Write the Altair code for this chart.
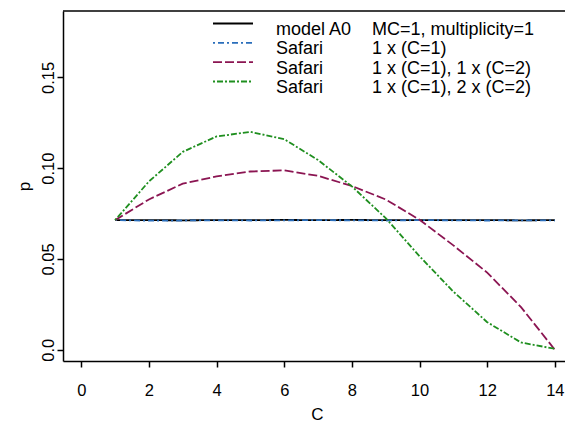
import altair as alt
import pandas as pd

# ---- data ----
C = list(range(1, 15))
model_a0 = [0.0714, 0.0714, 0.0713, 0.0714, 0.0714, 0.0715, 0.0714,
            0.0715, 0.0714, 0.0714, 0.0714, 0.0714, 0.0713, 0.0714]
safari_1 = [0.0714, 0.0711, 0.0712, 0.0713, 0.0712, 0.0713, 0.0714,
            0.0713, 0.0712, 0.0714, 0.0713, 0.0712, 0.0713, 0.0712]
safari_2 = [0.0714, 0.0828, 0.0915, 0.0955, 0.0982, 0.0988, 0.0958,
            0.0902, 0.0828, 0.0716, 0.0575, 0.0425, 0.0235, 0.0000]
safari_3 = [0.0714, 0.0927, 0.1090, 0.1175, 0.1200, 0.1160, 0.1045,
            0.0900, 0.0725, 0.0515, 0.0320, 0.0152, 0.0040, 0.0005]

keys = ["A0", "S1", "S2", "S3"]
names = ["model A0", "Safari", "Safari", "Safari"]
descs = ["MC=1, multiplicity=1", "1 x (C=1)", "1 x (C=1), 1 x (C=2)", "1 x (C=1), 2 x (C=2)"]
x_ticks = [0, 2, 4, 6, 8, 10, 12, 14]
y_ticks = [0, 0.05, 0.10, 0.15]

# ---- styles ----
colors = ["#000000", "#2a6ebb", "#8b1552", "#1f8f1f"]
dashes = [[1, 0], [2, 3, 6, 3], [9, 3], [2, 2, 6, 2]]
FONT = "Liberation Sans"
W, H = 502, 350

rows = []
for k, ys in zip(keys, [model_a0, safari_1, safari_2, safari_3]):
    for c, v in zip(C, ys):
        rows.append({"C": c, "p": v, "key": k})
df = pd.DataFrame(rows)

leg = pd.DataFrame({"key": keys, "name": names, "desc": descs, "row": list(range(4))})

color_scale = alt.Scale(domain=keys, range=colors)
dash_scale = alt.Scale(domain=keys, range=dashes)

x_enc = alt.X("C:Q", scale=alt.Scale(domain=[-0.54, 14.3], nice=False, zero=False),
              axis=alt.Axis(values=x_ticks, grid=False, domainColor="black", domainWidth=1.5,
                            tickColor="black", tickWidth=1.5, tickSize=6,
                            labelFont=FONT, labelFontSize=16.5, labelColor="black",
                            labelPadding=15.5, labelFlush=False, labelOverlap=False,
                            title="C", titleFont=FONT, titleFontSize=17, titleFontWeight="normal",
                            titleColor="black", titleBaseline="alphabetic", titleAlign="center",
                            titleX=254, titleY=58))
y_enc = alt.Y("p:Q", scale=alt.Scale(domain=[-0.0062, 0.1866], nice=False, zero=False),
              axis=alt.Axis(values=y_ticks, grid=False, domainColor="black", domainWidth=1.5,
                            tickColor="black", tickWidth=1.5, tickSize=6,
                            labelFont=FONT, labelFontSize=16.5, labelColor="black",
                            labelAngle=270, labelAlign="center", labelBaseline="alphabetic",
                            labelPadding=3.7, labelFlush=False, labelOverlap=False,
                            labelExpr="datum.value == 0 ? '0.0' : format(datum.value, '.2f')",
                            title="p", titleFont=FONT, titleFontSize=17, titleFontWeight="normal",
                            titleColor="black", titleAngle=270, titleBaseline="alphabetic",
                            titleAlign="center", titleX=-34, titleY=175))

lines = alt.Chart(df).mark_line(strokeWidth=1.8).encode(
    x=x_enc, y=y_enc,
    color=alt.Color("key:N", scale=color_scale, legend=None),
    strokeDash=alt.StrokeDash("key:N", scale=dash_scale, legend=None),
    detail="key:N",
)

border = alt.Chart(pd.DataFrame({"a": [0]})).mark_rule(color="black", strokeWidth=1.5).encode(
    x=alt.value(0), x2=alt.value(W), y=alt.value(0)
)

leg_y = alt.Y("row:O", scale=alt.Scale(type="point", range=[12.5, 70.5], padding=0), axis=None)

leg_lines = alt.Chart(leg).mark_rule(strokeWidth=1.8).encode(
    x=alt.value(150), x2=alt.value(190), y=leg_y,
    color=alt.Color("key:N", scale=color_scale, legend=None),
    strokeDash=alt.StrokeDash("key:N", scale=dash_scale, legend=None),
)
leg_text1 = alt.Chart(leg).mark_text(align="left", baseline="alphabetic", dy=11.5,
                                     font=FONT, fontSize=18, color="black").encode(
    x=alt.value(213), y=leg_y, text="name:N")
leg_text2 = alt.Chart(leg).mark_text(align="left", baseline="alphabetic", dy=11.5,
                                     font=FONT, fontSize=18, color="black").encode(
    x=alt.value(309), y=leg_y, text="desc:N")

chart = alt.layer(lines, border, leg_lines, leg_text1, leg_text2).resolve_scale(
    y="independent"
).properties(
    width=W, height=H,
    autosize=alt.AutoSizeParams(type="none"),
    padding={"left": 63, "top": 11, "right": 0, "bottom": 62},
    background="white",
).configure_view(stroke=None)

chart.save("out.html", embed_options={"renderer": "svg", "actions": False})
